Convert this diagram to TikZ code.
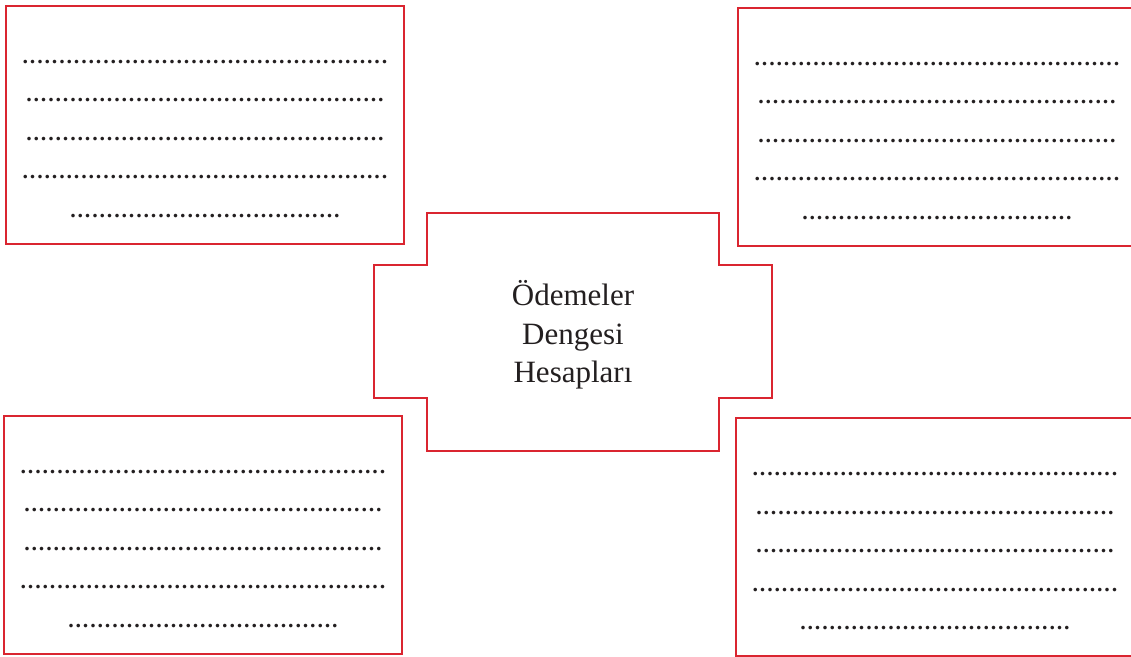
\documentclass[tikz,border=0pt]{standalone}
\usepackage{fontspec}
\setmainfont{Liberation Serif}
\usepackage{tikz}
\usetikzlibrary{calc}
\definecolor{boxred}{RGB}{218,37,48}
\definecolor{ink}{RGB}{35,31,32}
\tikzstyle{blankbox} = [draw=boxred, line width=1pt, rectangle, inner sep=0, minimum width=199pt, minimum height=119pt]
\tikzstyle{blankline} = [anchor=base, inner sep=0, text=ink, font=\fontsize{11}{12}\selectfont\bfseries]
\tikzstyle{title} = [align=center, text=ink, inner sep=0, font=\fontsize{15.5}{19.25}\selectfont]
\newcommand{\blank}[1]{\foreach \i in {1,...,#1}{\makebox[3.665pt]{.}}}

\begin{document}
\begin{tikzpicture}[x=0.5pt, y=-0.5pt]
            \path[use as bounding box, clip] (0,0) rectangle (1131,657);
            \node (tl) [blankbox] at (205,125) {};
            \node (tr) [blankbox] at (937,127) {};
            \node (bl) [blankbox] at (203,535) {};
            \node (br) [blankbox] at (935,537.5) {};
            \foreach \b in {tl,tr,bl,br} {
                \foreach \n [count=\k] in {50,49,49,50,37}
                    \node (\b-\k) [blankline] at ([yshift={-29.1pt-19.25pt*(\k-1)}]\b.north) {\blank{\n}};
            }

            \node (hesap) [title] at (573,335) {Ödemeler\\Dengesi\\Hesapları};
            \draw [boxred, line width=1pt] ($(hesap.center)+(-146,-122)$) -- ++(292,0) -- ++(0,52.5) -- ++(53,0) -- ++(0,133)
                -- ++(-53,0) -- ++(0,52.5) -- ++(-292,0) -- ++(0,-52.5) -- ++(-53,0) -- ++(0,-133) -- ++(53,0) -- cycle;
        \end{tikzpicture}
\end{document}
